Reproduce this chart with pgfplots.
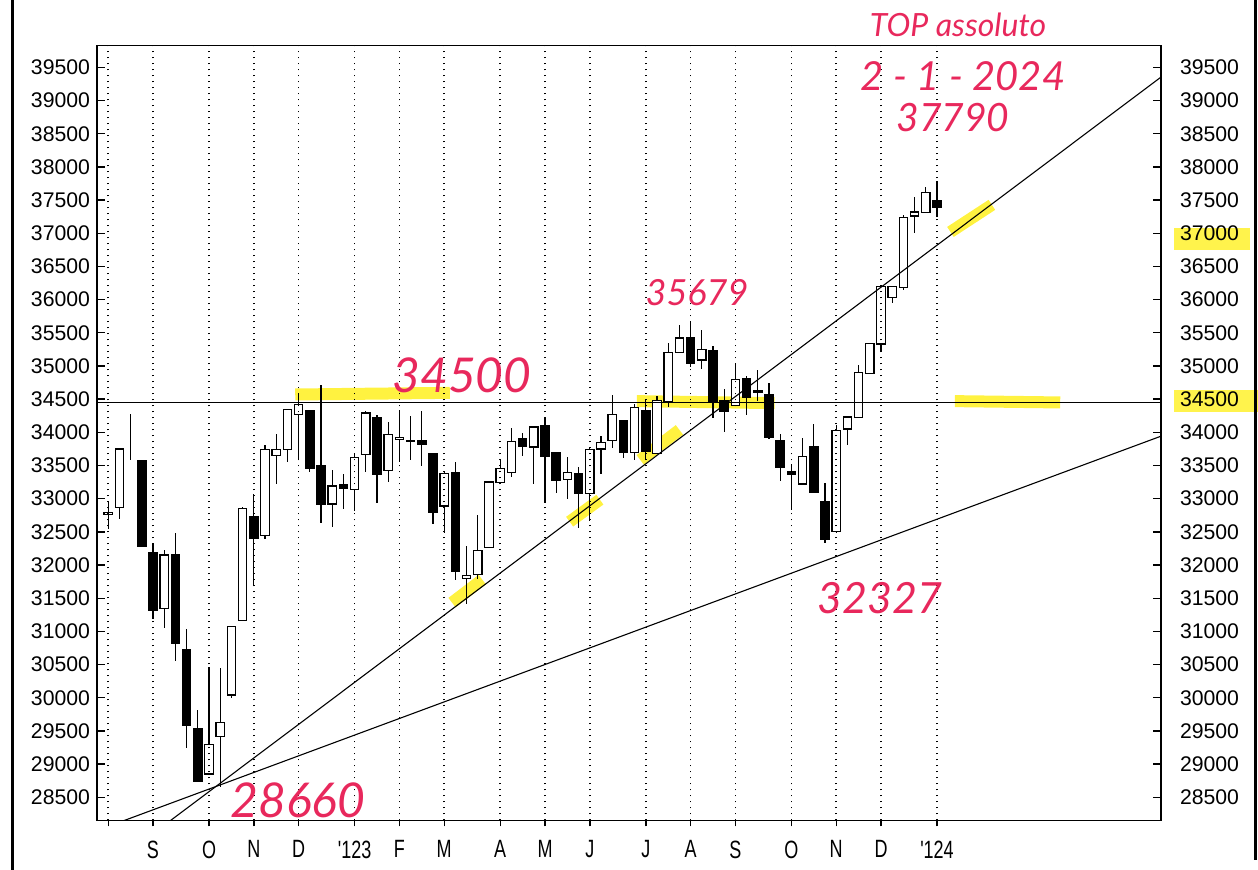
\documentclass[border=0pt]{standalone}
\usepackage{fontspec}
\setmainfont{Liberation Sans}
\newfontfamily\narrowfont[FakeStretch=0.72]{Liberation Sans}
\newfontfamily\handfont{Lato}
\usepackage{pgfplots}
\usepackage{pgfplotstable}
\pgfplotsset{compat=1.18}
\definecolor{ink}{RGB}{232,40,92}
\definecolor{marker}{RGB}{255,238,0}

% weekly candles, Aug 2022 -> Jan 2024 (i = week index)
\pgfplotstableread{
i o h l c
0 32760 32970 32540 32790
1 32870 33760 32690 33750
2 33710 34280 33580 33710
3 33580 33590 32270 32280
4 32190 32310 31180 31310
5 31340 32220 31050 32150
6 32150 32490 30560 30820
7 30720 31030 29240 29590
8 29530 29810 28730 28740
9 28850 30470 28840 29300
10 29410 30450 28660 29630
11 30040 31080 29990 31070
12 31170 32870 31150 32850
13 32730 33070 31680 32400
14 32440 33810 32390 33740
15 33650 33980 33220 33740
16 33740 34350 33550 34340
17 34270 34590 33580 34420
18 34330 34340 33400 33460
19 33500 34710 32640 32920
20 32920 33430 32570 33190
21 33210 33370 32840 33150
22 33140 33690 32810 33620
23 33660 34320 33400 34290
24 34220 34260 32940 33360
25 33420 34160 33250 33970
26 33890 34330 33560 33920
27 33880 34240 33580 33860
28 33880 34320 33500 33820
29 33680 33690 32620 32800
30 32890 33400 32490 33380
31 33390 33550 31770 31910
32 31800 32290 31420 31840
33 31860 32750 31790 32220
34 32270 33270 32260 33250
35 33240 33600 33230 33450
36 33390 34070 33330 33860
37 33910 33990 33650 33790
38 33780 34090 33220 34080
39 34100 34220 32930 33640
40 33700 33710 33090 33270
41 33290 33630 32990 33390
42 33380 33480 32560 33080
43 33080 33780 32670 33740
44 33750 33950 33370 33850
45 33880 34560 33760 34270
46 34180 34190 33620 33700
47 33700 34420 33580 34370
48 34330 34480 33600 33710
49 33680 34550 33670 34480
50 34470 35340 34380 35200
51 35200 35620 35190 35420
52 35420 35679 34990 35040
53 35090 35540 34960 35250
54 35230 35300 34220 34470
55 34480 34660 34010 34320
56 34410 35050 34400 34800
57 34810 34850 34260 34530
58 34630 34940 34470 34600
59 34570 34740 33900 33920
60 33870 33980 33270 33470
61 33410 33520 32830 33370
62 33220 33920 33210 33630
63 33790 34120 33080 33090
64 32950 33230 32327 32380
65 32500 34110 32490 34030
66 34050 34240 33810 34230
67 34220 35010 34210 34900
68 34890 35350 34880 35340
69 35330 36210 35230 36200
70 36030 36210 35950 36200
71 36180 37280 36150 37240
72 37260 37550 37000 37320
73 37310 37700 37300 37610
74 37490 37790 37250 37390
}\candles

\pgfplotsset{
  chartbox/.style={
    scale only axis, width=532pt, height=387.5pt,
    xmin=-1, xmax=94, ymin=28150, ymax=39830,
    at={(48.5pt,24.75pt)}, anchor=south west,
    axis line style={line width=0.75pt},
    every tick/.style={line width=0.7pt, black},
    xtick={0,4,9,13,17,22,26,30,35,39,43,48,52,56,61,65,69,74},
    ytick={28500,29000,...,39500},
    scaled y ticks=false,
    yticklabel style={/pgf/number format/fixed, /pgf/number format/precision=0},
    /pgf/number format/assume math mode=true,
    /pgf/number format/1000 sep={},
  }
}

\begin{document}
\begin{tikzpicture}[x=0.5pt,y=0.5pt]
\useasboundingbox (0,0) rectangle (1258,870);
% highlighted labels on the right
\fill[marker, opacity=0.7] (1174,620) rectangle (1250,642);
\fill[marker, opacity=0.7] (1174,458) rectangle (1258,480);

% axis 1: frame, left labels, month labels, wicks
\begin{axis}[chartbox,
  tick align=outside,
  xtick pos=bottom, ytick pos=left,
  major tick length=3pt,
  ytick style={draw=none},
  xticklabels={,S,O,N,D,'123,F,M,A,M,J,J,A,S,O,N,D,'124},
  xticklabel style={font=\narrowfont\fontsize{12.5}{14}\selectfont, yshift=-3.5pt},
  yticklabel style={font=\fontsize{10.6}{12}\selectfont, xshift=3pt},
]
\addplot[marker, opacity=0.75, line width=6pt] coordinates {(16.7,34570) (30.5,34595)};
\addplot[marker, opacity=0.75, line width=6pt] coordinates {(30.7,31433) (33.4,31780)};
\addplot[marker, opacity=0.75, line width=6pt] coordinates {(41.2,32653) (43.9,32985)};
\addplot[marker, opacity=0.75, line width=6pt] coordinates {(47.5,33585) (51.0,34037)};
\addplot[marker, opacity=0.75, line width=6pt] coordinates {(47.2,34470) (59.5,34440)};
\addplot[marker, opacity=0.75, line width=6pt] coordinates {(75.2,37020) (78.9,37428)};
\addplot[marker, opacity=0.75, line width=6pt] coordinates {(75.6,34470) (85.0,34450)};
\addplot[draw=none, mark=none,
  error bars/.cd, y dir=both, y explicit, error mark=none,
  error bar style={draw=black, line width=0.55pt}]
  table[x=i, y expr={(\thisrow{h}+\thisrow{l})/2},
        y error expr={(\thisrow{h}-\thisrow{l})/2}] {\candles};
\end{axis}

% axis 2: candle bodies
\begin{axis}[chartbox, hide axis, ybar stacked, bar width=0.74]
\addplot[draw=none, fill=none] table[x=i, y expr={min(\thisrow{o},\thisrow{c})}] {\candles};
\addplot[draw=black, fill=white, line width=0.6pt] table[x=i, y expr={max(\thisrow{c}-\thisrow{o},0)}] {\candles};
\addplot[draw=black, fill=black, line width=0.6pt] table[x=i, y expr={max(\thisrow{o}-\thisrow{c},0)}] {\candles};
\end{axis}

% axis 3: dotted month grid, trend lines, right labels
\begin{axis}[chartbox,
  tick align=inside,
  ytick pos=both, yticklabel pos=right,
  major tick length=4pt,
  xmajorgrids,
  major grid style={black, line width=0.8pt, dash pattern=on 0.8pt off 2.2pt},
  xtick style={draw=none},
  xticklabels={},
  yticklabel style={font=\fontsize{10.6}{12}\selectfont, xshift=6pt},
]
\addplot[black, line width=0.55pt] coordinates {(-1,34450) (94,34450)};
\addplot[black, line width=0.55pt] coordinates {(5,28078) (94,39354)};
\addplot[black, line width=0.55pt] coordinates {(1,28123) (94,33942)};
\end{axis}

% scan edges
\draw[line width=1.5pt] (12,0) -- (12,870);
\draw[line width=1.5pt] (1255,10) -- (1255,870);

% handwritten notes
\begin{scope}[every node/.style={text=ink, inner sep=0pt}]
\node at (958,845) {\handfont\itshape\fontsize{16}{18}\selectfont TOP assoluto};
\node at (963,794) {\handfont\itshape\fontsize{20}{22}\selectfont 2 - 1 - 2024};
\node at (953,752) {\handfont\itshape\fontsize{19.5}{22}\selectfont 37790};
\node at (697,577) {\handfont\itshape\fontsize{18}{20}\selectfont 35679};
\node at (462,495) {\handfont\itshape\fontsize{24}{26}\selectfont 34500};
\node at (880,272) {\handfont\itshape\fontsize{21.5}{24}\selectfont 32327};
\node at (298,70) {\handfont\itshape\fontsize{24}{26}\selectfont 28660};
\end{scope}
\end{tikzpicture}
\end{document}
